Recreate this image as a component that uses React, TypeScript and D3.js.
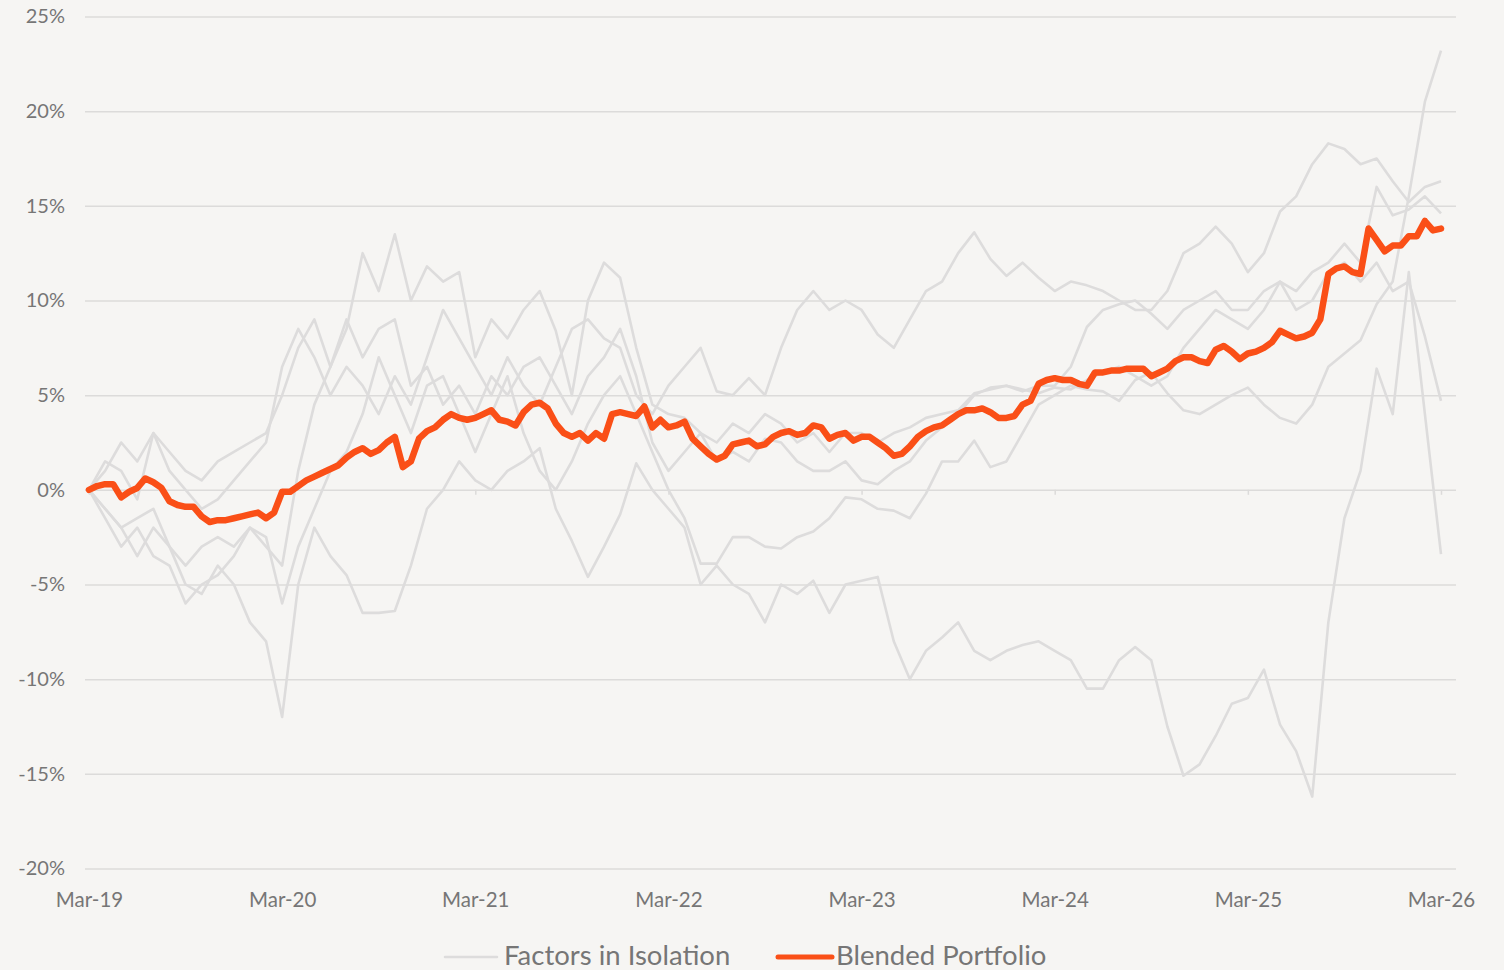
import React, { useEffect, useRef } from 'react'
import * as d3 from 'd3'

// x positions are months since Mar-19; factor series are monthly, the blend is twice a month
const xLabels = ['Mar-19', 'Mar-20', 'Mar-21', 'Mar-22', 'Mar-23', 'Mar-24', 'Mar-25', 'Mar-26']
const yTicks = [-20, -15, -10, -5, 0, 5, 10, 15, 20, 25]
const legendLabels = ['Factors in Isolation', 'Blended Portfolio']

const factorA = [
  0, 1.5, 1, -0.5, 3, 1, 0, -1, -0.5, 0.5, 1.5, 2.5,
  6.5, 8.5, 7, 5, 6.5, 5.5, 4, 6, 4.5, 7, 9.5, 8,
  6.5, 5, 7, 5.5, 4.5, 6.5, 8.5, 9, 8, 7.5, 5, 4,
  5.5, 6.5, 7.5, 5.2, 5, 5.9, 5, 7.5, 9.5, 10.5, 9.5, 10,
  9.5, 8.2, 7.5, 9, 10.5, 11, 12.5, 13.6, 12.2, 11.3, 12, 11.2,
  10.5, 11, 10.8, 10.5, 10, 9.5, 9.5, 10.5, 12.5, 13, 13.9, 13,
  11.5, 12.5, 14.7, 15.5, 17.2, 18.3, 18, 17.2, 17.5, 16.3, 15.2, 16,
  16.3
]
const factorB = [
  0, 1, 2.5, 1.5, 3, 2, 1, 0.5, 1.5, 2, 2.5, 3,
  5, 7.5, 9, 6.5, 8.5, 12.5, 10.5, 13.5, 10, 11.8, 11, 11.5,
  7, 9, 8, 9.5, 10.5, 8.4, 5, 10, 12, 11.2, 7.5, 4.5,
  4, 3.8, 3, 2.5, 3.5, 3, 4, 3.5, 2.5, 3, 2, 3,
  3, 2.5, 3, 3.3, 3.8, 4, 4.2, 5.1, 5.3, 5.5, 5.2, 5.5,
  5.5, 6.5, 8.6, 9.5, 9.8, 10, 9.3, 8.5, 9.5, 10, 10.5, 9.5,
  9.5, 10.5, 11, 9.5, 10, 11.5, 12, 11, 12, 10.5, 11, 8.1,
  4.7
]
const factorC = [
  0, -1, -2, -3.5, -2, -3, -4, -3, -2.5, -3, -2, -2.5,
  -6, -3, -1, 1, 2, 4, 7, 5, 3, 5.5, 6, 4,
  2, 4, 6, 3, 1, 0, 1.5, 3.5, 5, 6, 4, 2,
  0, -1.5, -3.9, -3.9, -2.5, -2.5, -3, -3.1, -2.5, -2.2, -1.5, -0.4,
  -0.5, -1, -1.1, -1.5, -0.2, 1.5, 1.5, 2.6, 1.2, 1.5, 3, 4.5,
  5, 5.5, 5.3, 5.2, 4.7, 5.8, 6.2, 5.1, 4.2, 4, 4.5, 5,
  5.4, 4.5, 3.8, 3.5, 4.5, 6.5, 7.2, 7.9, 9.8, 11, 15.5, 20.5,
  23.2
]
const factorD = [
  0, -1, -2, -1.5, -1, -3, -5, -5.5, -4, -5, -7, -8,
  -12, -5, -2, -3.5, -4.5, -6.5, -6.5, -6.4, -4, -1, 0, 1.5,
  0.5, 0, 1, 1.5, 2.2, -1, -2.7, -4.6, -3, -1.3, 1.4, 0,
  -1, -2, -5, -4, -5, -5.5, -7, -5, -5.5, -4.8, -6.5, -5,
  -4.8, -4.6, -8, -10, -8.5, -7.8, -7, -8.5, -9, -8.5, -8.2, -8,
  -8.5, -9, -10.5, -10.5, -9, -8.3, -9, -12.5, -15.1, -14.5, -13, -11.3,
  -11, -9.5, -12.4, -13.8, -16.2, -7, -1.5, 1, 6.4, 4, 11.5, 4,
  -3.4
]
const factorE = [
  0, -1.5, -3, -2, -3.5, -4, -6, -5, -4.5, -3.5, -2, -3,
  -4, 1, 4.5, 6.5, 9, 7, 8.5, 9, 5.5, 6.5, 4.5, 5.5,
  4, 6, 5, 6.5, 7, 5.5, 4, 6, 7, 8.5, 6, 2.5,
  1, 2, 3, 1.5, 2, 1.5, 2.7, 2.5, 1.5, 1, 1, 1.5,
  0.5, 0.3, 1, 1.5, 2.6, 3.3, 4, 5, 5.4, 5.5, 5.3, 5.1,
  5.4, 5.3, 5.8, 6.2, 6.5, 6, 5.5, 6, 7.5, 8.5, 9.5, 9,
  8.5, 9.5, 11, 10.5, 11.5, 12, 13, 12, 16, 14.5, 14.8, 15.5,
  14.6
]
const blended = [
  0, 0.2, 0.3, 0.3, -0.4, -0.1, 0.1, 0.6, 0.4, 0.1, -0.6, -0.8,
  -0.9, -0.9, -1.4, -1.7, -1.6, -1.6, -1.5, -1.4, -1.3, -1.2, -1.5, -1.2,
  -0.1, -0.1, 0.2, 0.5, 0.7, 0.9, 1.1, 1.3, 1.7, 2.0, 2.2, 1.9,
  2.1, 2.5, 2.8, 1.2, 1.5, 2.7, 3.1, 3.3, 3.7, 4.0, 3.8, 3.7,
  3.8, 4.0, 4.2, 3.7, 3.6, 3.4, 4.1, 4.5, 4.6, 4.3, 3.5, 3.0,
  2.8, 3.0, 2.6, 3.0, 2.7, 4.0, 4.1, 4.0, 3.9, 4.4, 3.3, 3.7,
  3.3, 3.4, 3.6, 2.7, 2.3, 1.9, 1.6, 1.8, 2.4, 2.5, 2.6, 2.3,
  2.4, 2.8, 3.0, 3.1, 2.9, 3.0, 3.4, 3.3, 2.7, 2.9, 3.0, 2.6,
  2.8, 2.8, 2.5, 2.2, 1.8, 1.9, 2.3, 2.8, 3.1, 3.3, 3.4, 3.7,
  4.0, 4.2, 4.2, 4.3, 4.1, 3.8, 3.8, 3.9, 4.5, 4.7, 5.6, 5.8,
  5.9, 5.8, 5.8, 5.6, 5.5, 6.2, 6.2, 6.3, 6.3, 6.4, 6.4, 6.4,
  6.0, 6.2, 6.4, 6.8, 7.0, 7.0, 6.8, 6.7, 7.4, 7.6, 7.3, 6.9,
  7.2, 7.3, 7.5, 7.8, 8.4, 8.2, 8.0, 8.1, 8.3, 9.0, 11.4, 11.7,
  11.8, 11.5, 11.4, 13.8, 13.2, 12.6, 12.9, 12.9, 13.4, 13.4, 14.2, 13.7,
  13.8
]

const factors = [factorA, factorB, factorC, factorD, factorE]

const W = 1504
const H = 970
const BG = '#f6f5f3'
const GRID = '#dcdbda'
const FACTOR = '#dddcdc'
const ORANGE = '#fa4f17'
const TEXT = '#767676'
const FONT = 'Lato, "Open Sans", sans-serif'

const App = () => {
  const ref = useRef(null)

  useEffect(() => {
    const svg = d3.select(ref.current)
    svg.selectAll('*').remove()

    const x = d3.scaleLinear().domain([0, 84]).range([89, 1441])
    const y = d3.scaleLinear().domain([-20, 25]).range([868.5, 16.5])
    const gridLeft = 85
    const gridRight = 1456

    svg.append('rect').attr('width', W).attr('height', H).attr('fill', BG)

    // gridlines + y labels
    const yAxis = d3.axisLeft(y)
      .tickValues(yTicks)
      .tickFormat(d => d + '%')
      .tickSize(-(gridRight - gridLeft))
      .tickPadding(20)
    const gy = svg.append('g')
      .attr('transform', `translate(${gridLeft},0)`)
      .call(yAxis)
    gy.select('.domain').remove()
    gy.selectAll('line').attr('stroke', GRID).attr('stroke-width', 1.5)
    gy.selectAll('text')
      .attr('fill', TEXT)
      .style('font-family', FONT)
      .style('font-size', '20px')

    // small ticks hanging off the zero line
    const zeroAxis = d3.axisBottom(x)
      .tickValues(d3.range(0, 85, 12))
      .tickSize(5)
      .tickFormat(() => '')
    const gz = svg.append('g')
      .attr('transform', `translate(0,${y(0)})`)
      .call(zeroAxis)
    gz.select('.domain').remove()
    gz.selectAll('line').attr('stroke', GRID).attr('stroke-width', 1.5)

    // x labels
    const xAxis = d3.axisBottom(x)
      .tickValues(d3.range(0, 85, 12))
      .tickSize(0)
      .tickPadding(24)
      .tickFormat((d, i) => xLabels[i])
    const gx = svg.append('g')
      .attr('transform', `translate(0,${y(-20)})`)
      .call(xAxis)
    gx.select('.domain').remove()
    gx.selectAll('text')
      .attr('fill', TEXT)
      .style('font-family', FONT)
      .style('font-size', '20.5px')

    const monthly = d3.line()
      .x((d, i) => x(i))
      .y(d => y(d))
    const halfMonthly = d3.line()
      .x((d, i) => x(i / 2))
      .y(d => y(d))

    svg.append('g')
      .selectAll('path')
      .data(factors)
      .join('path')
      .attr('d', d => monthly(d))
      .attr('fill', 'none')
      .attr('stroke', FACTOR)
      .attr('stroke-width', 2.6)
      .attr('stroke-linejoin', 'round')

    svg.append('path')
      .attr('d', halfMonthly(blended))
      .attr('fill', 'none')
      .attr('stroke', ORANGE)
      .attr('stroke-width', 6.5)
      .attr('stroke-linejoin', 'round')
      .attr('stroke-linecap', 'round')

    // legend
    const legend = svg.append('g').style('font-family', FONT).style('font-size', '27.5px')
    const items = [
      { label: legendLabels[0], color: FACTOR, width: 2.5, x0: 445, x1: 497, tx: 504 },
      { label: legendLabels[1], color: ORANGE, width: 5, x0: 778, x1: 832, tx: 836 }
    ]
    items.forEach(it => {
      legend.append('line')
        .attr('x1', it.x0).attr('x2', it.x1)
        .attr('y1', 957).attr('y2', 957)
        .attr('stroke', it.color)
        .attr('stroke-width', it.width)
        .attr('stroke-linecap', 'round')
      legend.append('text')
        .attr('x', it.tx)
        .attr('y', 965)
        .attr('fill', TEXT)
        .text(it.label)
    })
  }, [])

  return (
    <div style={{ position: 'absolute', left: 0, top: 0, width: W, height: H, background: BG }}>
      <svg ref={ref} width={W} height={H} style={{ display: 'block' }} />
    </div>
  )
}

export default App
